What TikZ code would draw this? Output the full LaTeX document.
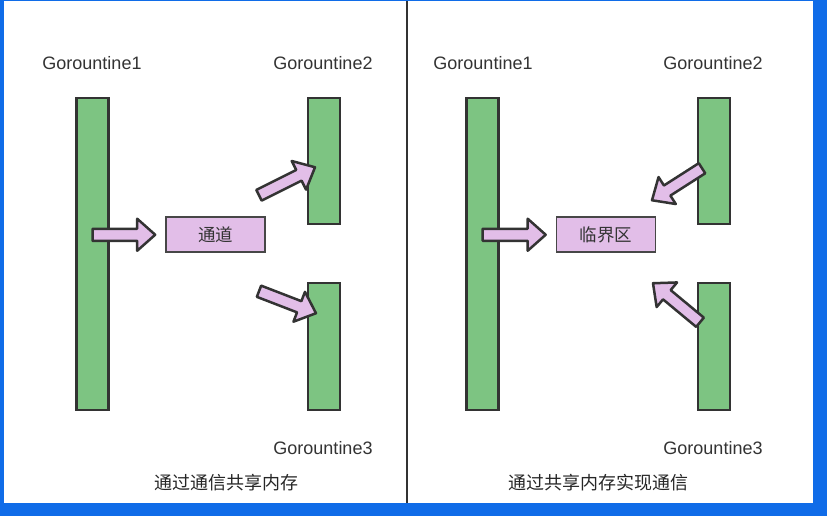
\documentclass[tikz,border=0pt]{standalone}
\usepackage{fontspec}
\setmainfont{Liberation Sans}
\newfontfamily\cjk{Noto Sans CJK SC}
\usetikzlibrary{calc}
\definecolor{barGreen}{RGB}{125,196,130}
\definecolor{lilac}{RGB}{226,190,232}
\definecolor{inkGray}{RGB}{51,51,51}
\definecolor{frameBlue}{RGB}{16,108,232}

\newcommand{\blockarrow}[2]{%
  \coordinate (#1h) at ($(#2)!18pt!(#1)$);
  \draw[fatarrow] ($(#1)!6pt!90:(#2)$) -- ($(#1h)!6pt!90:(#2)$) -- ($(#1h)!16pt!90:(#2)$) -- (#2)
    -- ($(#1h)!16pt!-90:(#2)$) -- ($(#1h)!6pt!-90:(#2)$) -- ($(#1)!6pt!-90:(#2)$) -- cycle;
}

\begin{document}
\begin{tikzpicture}[x=1pt,y=-1pt,
    bar/.style={draw=inkGray,line width=2.5pt,fill=barGreen,minimum width=32pt,inner sep=0pt},
    chan/.style={draw=inkGray!90,line width=1.6pt,fill=lilac,minimum width=99pt,minimum height=35pt,
      inner sep=0pt,font=\cjk\fontsize{17.5}{20}\selectfont,text=inkGray},
    glabel/.style={font=\fontsize{18}{21}\selectfont,text=inkGray},
    caption/.style={font=\cjk\fontsize{18}{21}\selectfont,text=black!85},
    fatarrow/.style={draw=inkGray,line width=2.5pt,fill=lilac,line join=round}]
        \fill[frameBlue] (0,0) rectangle (827,516);
        \fill[white] (4,1) rectangle (813,503);
        \draw[inkGray,line width=2.5pt] (407,1) -- (407,503);

        \node[glabel] (lab1L) at (92,63) {Gorountine1};
        \node[glabel] (lab2L) at (323,63) {Gorountine2};
        \node[glabel] (lab3L) at (323,448) {Gorountine3};
        \node[bar,minimum height=312pt] (g1L) at (92.5,253.5) {};
        \node[bar,minimum height=126pt] (g2L) at (324,160.5) {};
        \node[bar,minimum height=127pt] (g3L) at (324,346) {};
        \node[chan] (chanL) at (215.5,234.5) {通道};
        \node[caption] (capL) at (226,482) {通过通信共享内存};

        \coordinate (a1s) at (g1L.center |- chanL.west);
        \coordinate (a1e) at ([xshift=-10pt]chanL.west);
        \coordinate (a2s) at (259,195);
        \coordinate (a2e) at (315,167);
        \coordinate (a3s) at (259,291);
        \coordinate (a3e) at (316,313);
        \blockarrow{a1s}{a1e}
        \blockarrow{a2s}{a2e}
        \blockarrow{a3s}{a3e}

        \node[glabel] (lab1R) at (483,63) {Gorountine1};
        \node[glabel] (lab2R) at (713,63) {Gorountine2};
        \node[glabel] (lab3R) at (713,448) {Gorountine3};
        \node[bar,minimum height=312pt] (g1R) at (482.5,253.5) {};
        \node[bar,minimum height=126pt] (g2R) at (714,160.5) {};
        \node[bar,minimum height=127pt] (g3R) at (714,346) {};
        \node[chan] (chanR) at (606,234.5) {临界区};
        \node[caption] (capR) at (598,482) {通过共享内存实现通信};

        \coordinate (b1s) at (g1R.center |- chanR.west);
        \coordinate (b1e) at ([xshift=-10pt]chanR.west);
        \coordinate (b2s) at (702,168);
        \coordinate (b2e) at (652,200);
        \coordinate (b3s) at (700,322);
        \coordinate (b3e) at (653,283);
        \blockarrow{b1s}{b1e}
        \blockarrow{b2s}{b2e}
        \blockarrow{b3s}{b3e}
    \end{tikzpicture}
\end{document}
